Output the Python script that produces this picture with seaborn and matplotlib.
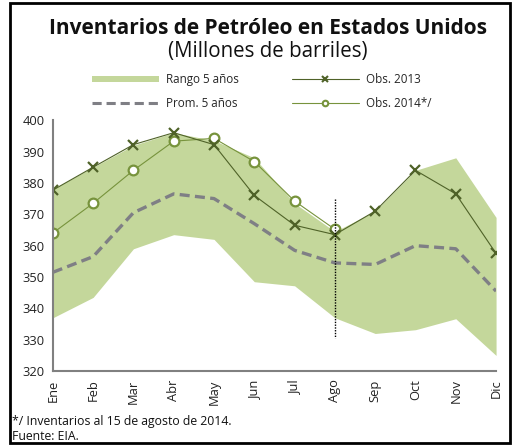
import numpy as np
import pandas as pd
import seaborn as sns
from matplotlib import pyplot as plt
from matplotlib.lines import Line2D
from matplotlib.patches import Patch, Rectangle

sns.set_style("white")
plt.rcParams["font.family"] = ["Open Sans", "DejaVu Sans"]

meses = ["Ene", "Feb", "Mar", "Abr", "May", "Jun", "Jul", "Ago", "Sep", "Oct", "Nov", "Dic"]
rango_max = [378, 385, 392, 396, 393.5, 388, 373.5, 364.5, 371, 384, 388, 369]
rango_min = [337, 343.5, 359, 363.5, 362, 348.5, 347.2, 337, 332, 333.2, 336.7, 325]
prom_5 = [351.5, 356.5, 370.5, 376.5, 375, 367, 358.5, 354.5, 354, 360, 359, 345.5]
obs_2013 = [377.7, 385, 392.2, 396, 392.2, 376, 366.5, 363.5, 371, 384, 376.5, 357.5]
obs_2014 = [364, 373.5, 384, 393.3, 394.2, 386.8, 374.2, 365.2]

x = np.arange(len(meses))
df13 = pd.DataFrame({"x": x, "v": obs_2013})
df14 = pd.DataFrame({"x": x[: len(obs_2014)], "v": obs_2014})
dfp = pd.DataFrame({"x": x, "v": prom_5})

c_fill = "#c4d79b"
c_13 = "#4f6228"
c_14 = "#77933c"
c_prom = "#7f7f85"

fig = plt.figure(figsize=(5.13, 4.45), dpi=100)
ax = fig.add_axes([0.103, 0.166, 0.864, 0.564])

# banda del rango de 5 años
ax.fill_between(x, rango_min, rango_max, color=c_fill, linewidth=0)
sns.lineplot(data=dfp, x="x", y="v", ax=ax, color=c_prom, linewidth=2.4,
             linestyle=(0, (3, 1.6)))
sns.lineplot(data=df14, x="x", y="v", ax=ax, color=c_14, linewidth=0.8,
             marker="o", markersize=7, markerfacecolor="white",
             markeredgecolor=c_14, markeredgewidth=1.6)
sns.lineplot(data=df13, x="x", y="v", ax=ax, color=c_13, linewidth=0.8,
             marker="x", markersize=7.5, markeredgewidth=1.6, markeredgecolor=c_13)
ax.plot([7, 7], [375, 330.6], color="black", linestyle=(0, (1, 1)), linewidth=1)

ax.set_xlim(0, 11)
ax.set_ylim(320, 400)
ax.set_yticks(range(320, 401, 10))
ax.set_xticks(x)
ax.set_xticklabels(meses, rotation=90)
ax.set_xlabel("")
ax.set_ylabel("")
sns.despine(ax=ax)
for s in ["left", "bottom"]:
    ax.spines[s].set_color("#808080")
    ax.spines[s].set_linewidth(1.5)
ax.tick_params(axis="both", direction="out", length=4, width=1.2, color="#808080",
               labelsize=9.3, labelcolor="#222222", pad=2)

fig.text(0.522, 0.937, "Inventarios de Petróleo en Estados Unidos", ha="center",
         va="center", fontsize=15, fontweight="bold", color="#111111")
fig.text(0.522, 0.885, "(Millones de barriles)", ha="center", va="center",
         fontsize=14.8, color="#111111")

handles = [
    Patch(facecolor=c_fill, edgecolor="none"),
    Line2D([], [], color=c_prom, linewidth=2.2, linestyle=(0, (3, 1.6))),
    Line2D([], [], color=c_13, linewidth=0.8, marker="x", markersize=4,
           markeredgewidth=1.5),
    Line2D([], [], color=c_14, linewidth=0.8, marker="o", markersize=4,
           markerfacecolor="white", markeredgewidth=1.5),
]
labels = ["Rango 5 años", "Prom. 5 años", "Obs. 2013", "Obs. 2014*/"]
fig.legend(handles, labels, ncol=2, loc="center", bbox_to_anchor=(0.51, 0.794),
           frameon=False, fontsize=8.4, handlelength=5.8, handleheight=0.5,
           columnspacing=4.5, labelspacing=0.95, handletextpad=0.6)

fig.text(0.023, 0.052, "*/ Inventarios al 15 de agosto de 2014.", fontsize=8.8,
         va="center", color="#111111")
fig.text(0.023, 0.019, "Fuente: EIA.", fontsize=8.8, va="center", color="#111111")

fig.patches.append(Rectangle((0.02, 0.004), 0.974, 0.99, transform=fig.transFigure,
                             fill=False, edgecolor="black", linewidth=2))

fig.savefig("out.png", dpi=100)
